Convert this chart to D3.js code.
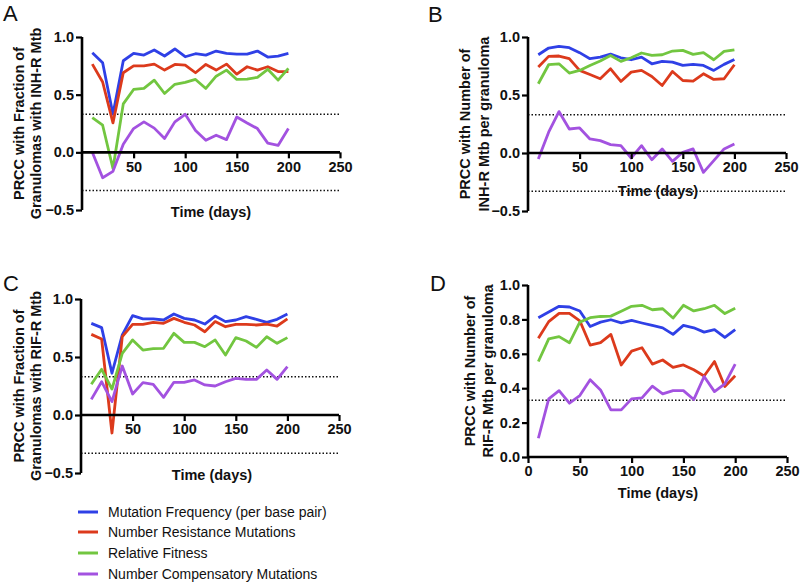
<!DOCTYPE html>
<html><head><meta charset="utf-8">
<script src="https://cdn.jsdelivr.net/npm/d3@7"></script>
<style>
html,body{margin:0;padding:0;background:#fff;}
svg{display:block;font-family:"Liberation Sans",Arial,Helvetica,sans-serif;}
</style></head>
<body>
<svg id="chart" width="800" height="584"></svg>
<script>
const days = [10,20,30,40,50,60,70,80,90,100,110,120,130,140,150,160,170,180,190,200];
const seriesNames = ["Mutation Frequency (per base pair)","Number Resistance Mutations","Relative Fitness","Number Compensatory Mutations"];
const seriesColors = ["#2f40e6","#dc3a1c","#72c640","#a352e0"];
const threshold = 0.33;

// Panel A: PRCC with fraction of granulomas with INH-R Mtb
const A_blue   = [0.864,0.777,0.33,0.794,0.858,0.843,0.887,0.835,0.896,0.829,0.855,0.843,0.878,0.858,0.852,0.852,0.878,0.826,0.835,0.858];
const A_red    = [0.765,0.61,0.255,0.69,0.75,0.75,0.765,0.713,0.762,0.757,0.69,0.762,0.713,0.765,0.678,0.742,0.713,0.742,0.70,0.70];
const A_green  = [0.30,0.235,-0.14,0.42,0.545,0.554,0.626,0.51,0.59,0.606,0.632,0.554,0.66,0.713,0.632,0.635,0.65,0.72,0.626,0.728];
const A_purple = [0.0,-0.22,-0.165,0.07,0.206,0.264,0.21,0.12,0.264,0.33,0.19,0.104,0.148,0.11,0.307,0.255,0.206,0.08,0.06,0.206];

// Panel B: PRCC with number of INH-R Mtb per granuloma
const B_blue   = [0.847,0.905,0.919,0.908,0.865,0.813,0.827,0.853,0.821,0.804,0.827,0.769,0.79,0.784,0.755,0.764,0.755,0.712,0.764,0.807];
const B_red    = [0.741,0.833,0.836,0.813,0.712,0.677,0.64,0.726,0.617,0.697,0.712,0.66,0.582,0.703,0.625,0.62,0.683,0.634,0.64,0.761];
const B_green  = [0.597,0.761,0.769,0.689,0.712,0.755,0.793,0.841,0.79,0.821,0.862,0.841,0.847,0.879,0.885,0.85,0.865,0.804,0.876,0.89];
const B_purple = [-0.052,0.179,0.357,0.207,0.216,0.121,0.107,0.072,0.063,-0.043,0.063,-0.058,0.035,-0.072,0.006,0.035,-0.167,-0.066,0.035,0.078];

// Panel C: PRCC with fraction of granulomas with RIF-R Mtb
const C_blue   = [0.79,0.753,0.36,0.69,0.856,0.828,0.828,0.819,0.871,0.833,0.819,0.784,0.853,0.805,0.819,0.848,0.825,0.799,0.825,0.871];
const C_red    = [0.695,0.655,-0.155,0.675,0.782,0.782,0.799,0.79,0.833,0.799,0.776,0.718,0.805,0.761,0.782,0.782,0.776,0.784,0.767,0.828];
const C_green  = [0.265,0.394,0.224,0.532,0.647,0.56,0.572,0.575,0.704,0.626,0.626,0.589,0.647,0.517,0.667,0.638,0.583,0.675,0.618,0.667];
const C_purple = [0.135,0.287,0.115,0.422,0.181,0.279,0.264,0.152,0.282,0.282,0.302,0.259,0.25,0.287,0.316,0.307,0.307,0.388,0.307,0.417];

// Panel D: PRCC with number of RIF-R Mtb per granuloma
const D_blue   = [0.81,0.843,0.876,0.872,0.849,0.759,0.784,0.798,0.78,0.794,0.779,0.765,0.751,0.713,0.765,0.751,0.726,0.74,0.695,0.74];
const D_red    = [0.69,0.787,0.835,0.835,0.792,0.651,0.665,0.713,0.535,0.616,0.635,0.54,0.564,0.521,0.535,0.507,0.471,0.555,0.41,0.472];
const D_green  = [0.555,0.687,0.70,0.664,0.784,0.81,0.817,0.819,0.847,0.876,0.882,0.856,0.862,0.808,0.882,0.849,0.862,0.882,0.834,0.865];
const D_purple = [0.109,0.338,0.386,0.313,0.357,0.449,0.39,0.274,0.274,0.338,0.344,0.412,0.367,0.386,0.386,0.334,0.468,0.38,0.425,0.54];

const xTicksTop = [50,100,150,200,250];
const xTicksD = [0,50,100,150,200,250];
const yTicksABC = [-0.5,0,0.5,1.0];
const yTicksD = [0,0.2,0.4,0.6,0.8,1.0];

const svg = d3.select("#chart");

const panels = [
  {letter:"A", lx:3, ly:21, xr:[82,340], yr:[210,37], yd:[-0.5,1], series:[A_blue,A_red,A_green,A_purple],
   xticks:xTicksTop, yticks:yTicksABC, axisAtZero:true, dotted:[threshold,-threshold],
   ylab:["PRCC with  Fraction of","Granulomas with INH-R Mtb"], ylx:[24,41], tx:211, ty:217},
  {letter:"B", lx:428, ly:22, xr:[528,786], yr:[211,37], yd:[-0.5,1], series:[B_blue,B_red,B_green,B_purple],
   xticks:xTicksTop, yticks:yTicksABC, axisAtZero:true, dotted:[threshold,-threshold],
   ylab:["PRCC with Number of","INH-R Mtb per granuloma"], ylx:[470,489], tx:658, ty:196},
  {letter:"C", lx:3, ly:291, xr:[81,339], yr:[473,299], yd:[-0.5,1], series:[C_blue,C_red,C_green,C_purple],
   xticks:xTicksTop, yticks:yTicksABC, axisAtZero:true, dotted:[threshold,-threshold],
   ylab:["PRCC with  Fraction of","Granulomas with RIF-R Mtb"], ylx:[24,41], tx:212, ty:480},
  {letter:"D", lx:430, ly:291, xr:[528,787], yr:[457,285], yd:[0,1], series:[D_blue,D_red,D_green,D_purple],
   xticks:xTicksD, yticks:yTicksD, axisAtZero:false, dotted:[threshold],
   ylab:["PRCC with Number of","RIF-R Mtb per granuloma"], ylx:[475,493], tx:658, ty:498}
];

panels.forEach(p => {
  const g = svg.append("g");
  const x = d3.scaleLinear().domain([0,250]).range(p.xr);
  const y = d3.scaleLinear().domain(p.yd).range(p.yr);

  g.append("text").attr("x",p.lx).attr("y",p.ly).attr("font-size",22).attr("fill","#111").text(p.letter);

  p.dotted.forEach(v => {
    g.append("line").attr("x1",x(0)).attr("x2",x(250)).attr("y1",y(v)).attr("y2",y(v))
      .attr("stroke","#111").attr("stroke-width",1.5).attr("stroke-dasharray","1.5,2");
  });

  const line = d3.line().x((d,i)=>x(days[i])).y(d=>y(d));
  p.series.forEach((s,i) => {
    g.append("path").datum(s).attr("d",line).attr("fill","none")
      .attr("stroke",seriesColors[i]).attr("stroke-width",2.8).attr("stroke-linejoin","round");
  });

  const yAxis = d3.axisLeft(y).tickValues(p.yticks).tickFormat(d3.format(".1f")).tickSize(6).tickPadding(2);
  const ya = g.append("g").attr("transform",`translate(${x(0)},0)`).call(yAxis);
  const xAxis = d3.axisBottom(x).tickValues(p.xticks).tickFormat(d3.format("d")).tickSize(6).tickPadding(3);
  const xa = g.append("g").attr("transform",`translate(0,${p.axisAtZero ? y(0) : y(p.yd[0])})`).call(xAxis);

  [ya,xa].forEach(a => {
    a.select(".domain").attr("stroke","#000").attr("stroke-width",2.6);
    a.selectAll(".tick line").attr("stroke","#000").attr("stroke-width",2.2);
    a.selectAll(".tick text").attr("font-size",14.5).attr("font-weight","bold").attr("fill","#111")
      .attr("font-family","'Liberation Sans',Arial,sans-serif");
  });
  ya.select(".domain").attr("d",`M0,${y(p.yd[1])}V${y(p.yd[0])}`);
  xa.select(".domain").attr("d",`M${x(0)},0H${x(250)}`);

  g.append("text").attr("x",p.tx).attr("y",p.ty).attr("text-anchor","middle")
    .attr("font-size",14.5).attr("font-weight","bold").attr("fill","#111").text("Time (days)");

  const cy = (p.yr[0]+p.yr[1])/2;
  p.ylab.forEach((t,i) => {
    g.append("text").attr("transform",`translate(${p.ylx[i]},${cy}) rotate(-90)`)
      .attr("text-anchor","middle").attr("font-size",14.5).attr("font-weight","bold").attr("fill","#111").text(t);
  });
});

const legendRows = [512,532,553,574];
const lg = svg.append("g");
seriesNames.forEach((n,i) => {
  lg.append("line").attr("x1",78).attr("x2",98).attr("y1",legendRows[i]).attr("y2",legendRows[i])
    .attr("stroke",seriesColors[i]).attr("stroke-width",3);
  lg.append("text").attr("x",108).attr("y",legendRows[i]).attr("dy","0.35em")
    .attr("font-size",14).attr("fill","#111").text(n);
});
</script>
</body></html>
